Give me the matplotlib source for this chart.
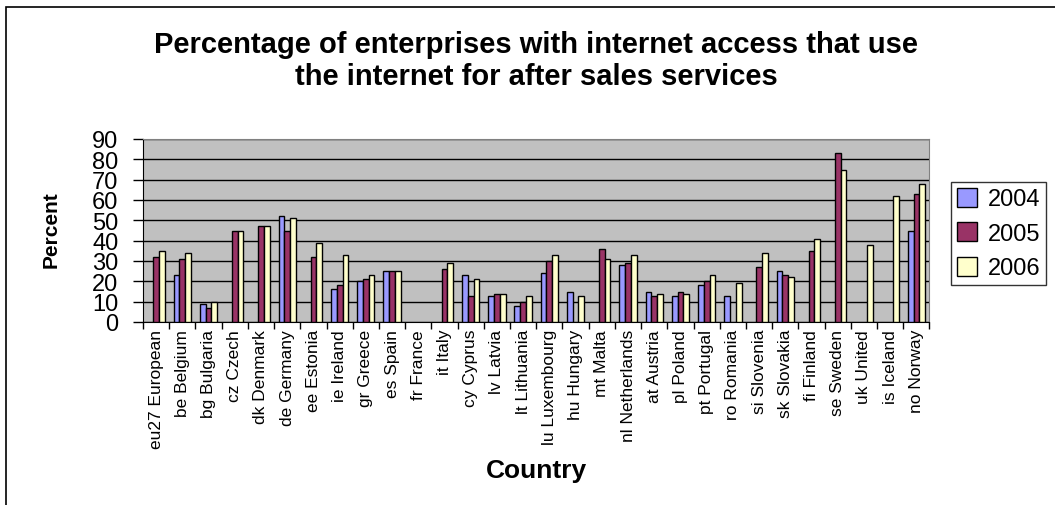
import matplotlib
matplotlib.use("Agg")
import matplotlib.pyplot as plt
import numpy as np
from matplotlib.patches import Rectangle

plt.rcParams['font.family'] = ['Liberation Sans', 'DejaVu Sans']

countries = ["eu27 European", "be Belgium", "bg Bulgaria", "cz Czech", "dk Denmark",
             "de Germany", "ee Estonia", "ie Ireland", "gr Greece", "es Spain",
             "fr France", "it Italy", "cy Cyprus", "lv Latvia", "lt Lithuania",
             "lu Luxembourg", "hu Hungary", "mt Malta", "nl Netherlands", "at Austria",
             "pl Poland", "pt Portugal", "ro Romania", "si Slovenia", "sk Slovakia",
             "fi Finland", "se Sweden", "uk United", "is Iceland", "no Norway"]

nan = np.nan
v2004 = [nan, 23, 9, nan, nan, 52, nan, 16, 20, 25,
         nan, nan, 23, 13, 8, 24, 15, nan, 28, 15,
         13, 18, 13, nan, 25, nan, nan, nan, nan, 45]
v2005 = [32, 31, 7, 45, 47, 45, 32, 18, 21, 25,
         nan, 26, 13, 14, 10, 30, nan, 36, 29, 13,
         15, 20, nan, 27, 23, 35, 83, nan, nan, 63]
v2006 = [35, 34, 10, 45, 47, 51, 39, 33, 23, 25,
         nan, 29, 21, 14, 13, 33, 13, 31, 33, 14,
         14, 23, 19, 34, 22, 41, 75, 38, 62, 68]
years = ["2004", "2005", "2006"]
colors = ["#9999FF", "#993366", "#FFFFCC"]

W, H = 1055, 506
fig = plt.figure(figsize=(W / 100, H / 100), dpi=100)
fig.patch.set_facecolor("white")

# outer chart border (left and top visible)
fig.add_artist(Rectangle((6 / W, -0.1), 1.2, (1 - 8 / H) + 0.1, transform=fig.transFigure,
                         fill=False, edgecolor="black", linewidth=1.2, clip_on=False))

ax = fig.add_axes([143 / W, 1 - 323 / H, (929.5 - 143) / W, (323 - 140) / H])
ax.set_facecolor("#C0C0C0")

x = np.arange(len(countries))
bw = 0.22
for i, (vals, c, lab) in enumerate(zip([v2004, v2005, v2006], colors, years)):
    ax.bar(x + (i - 1) * bw, vals, width=bw, color=c, edgecolor="black",
           linewidth=1.0, label=lab, zorder=3)

ax.set_xlim(-0.5, len(countries) - 0.5)
ax.set_ylim(0, 90)
ax.set_yticks(np.arange(0, 91, 10))
ax.yaxis.grid(True, color="black", linewidth=1.0, zorder=1)
ax.set_axisbelow(True)
ax.tick_params(axis="y", labelsize=17, length=7.2, width=1, direction="out", pad=10.5)

ax.set_xticks(x)
ax.set_xticklabels(countries, rotation=90, fontsize=12.5, va="top")
ax.tick_params(axis="x", which="major", length=0, pad=5)
ax.set_xticks(np.arange(-0.5, len(countries), 1), minor=True)
ax.tick_params(axis="x", which="minor", length=5, width=1, direction="out")

for s in ["top", "right"]:
    ax.spines[s].set_color("#808080")
for s in ["left", "bottom"]:
    ax.spines[s].set_color("black")

fig.text(536 / W, 1 - 61 / H,
         "Percentage of enterprises with internet access that use\nthe internet for after sales services",
         ha="center", va="center", fontsize=21, fontweight="bold", linespacing=1.15)
fig.text(51 / W, 1 - 230 / H, "Percent", rotation=90, ha="center", va="center",
         fontsize=15, fontweight="bold")
fig.text(536 / W, 1 - 471 / H, "Country", ha="center", va="center",
         fontsize=19, fontweight="bold")

leg = fig.legend(loc="upper left", bbox_to_anchor=(951 / W, 1 - 183 / H),
                 frameon=True, fancybox=False, edgecolor="black", fontsize=17,
                 handlelength=0.85, handleheight=0.85, handletextpad=0.45,
                 labelspacing=0.5, borderpad=0.25, borderaxespad=0)
leg.get_frame().set_linewidth(1.0)

fig.savefig("out.png", dpi=100)
